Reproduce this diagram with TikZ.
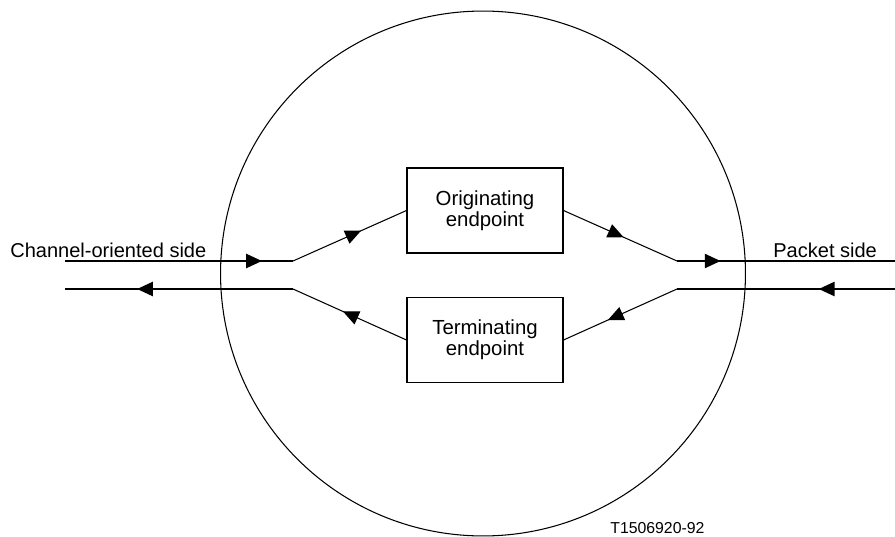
\documentclass[tikz,border=0pt]{standalone}
\usepackage{fontspec}
\setmainfont{Liberation Sans}
\usetikzlibrary{arrows.meta,decorations.markings}

\begin{document}
\begin{tikzpicture}[x=0.02cm,y=-0.02cm,
  end box/.style={rectangle,draw,line width=0.6pt,minimum width=3.12cm,minimum height=1.7cm,align=center,inner sep=0pt,font=\fontsize{11.6}{10.8}\selectfont},
  side label/.style={anchor=base west,inner sep=0pt,font=\fontsize{11.4}{13}\selectfont},
  trunk/.style={line width=1.2pt},
  branch/.style={line width=0.6pt},
  mid arrow/.style={postaction={decorate,decoration={markings,mark=at position #1 with {\arrow{Triangle[length=9pt,width=8pt]}}}}}]
\useasboundingbox (0,0) rectangle (895,537);

% the surrounding circle
\draw[line width=0.6pt] (483,273.5) circle [radius=5.25cm];

\node[end box] (orig) at (485,210.5) {Originating\\endpoint};
\node[end box] (term) at (485,340) {Terminating\\endpoint};

\coordinate (chanin) at (65,261);
\coordinate (chanout) at (65,289);
\coordinate (leftup) at (293,261);
\coordinate (leftdown) at (293,289);
\coordinate (rightup) at (677,261);
\coordinate (rightdown) at (677,289);
\coordinate (pktout) at (895,261);
\coordinate (pktin) at (895,289);

% channel-oriented side
\draw[trunk,mid arrow=0.864] (chanin) -- (leftup);
\draw[trunk,mid arrow=0.684] (leftdown) -- (chanout);
\draw[branch,mid arrow=0.6] (leftup) -- (orig.west);
\draw[branch,mid arrow=0.56] (term.west) -- (leftdown);

% packet side
\draw[branch,mid arrow=0.53] (orig.east) -- (rightup);
\draw[branch,mid arrow=0.61] (rightdown) -- (term.east);
\draw[trunk,mid arrow=0.2] (rightup) -- (pktout);
\draw[trunk,mid arrow=0.35] (pktin) -- (rightdown);

\node[side label] (chanlabel) at (10,257) {Channel-oriented side};
\node[side label] (pktlabel) at (773,257) {Packet side};
\node[side label,font=\fontsize{9}{11}\selectfont] (figno) at (610,533) {T1506920-92};
\end{tikzpicture}
\end{document}
